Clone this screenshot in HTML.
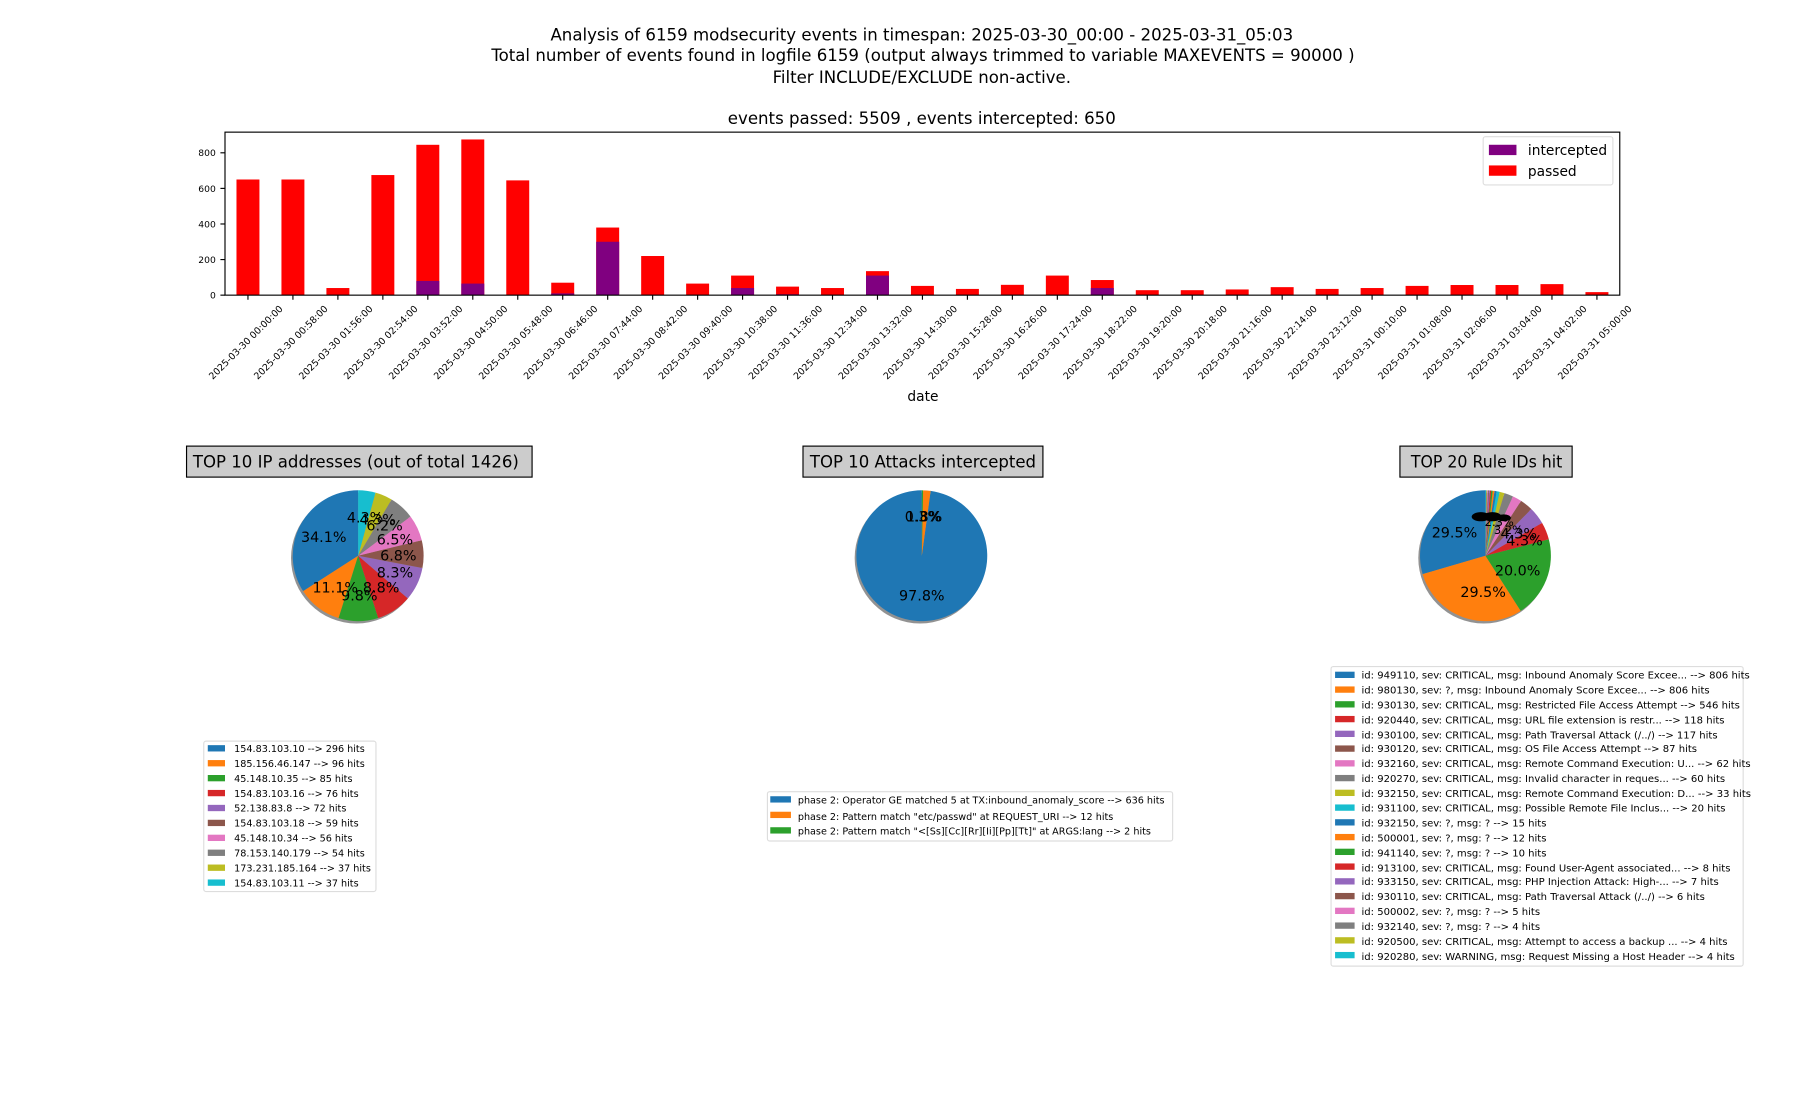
<!DOCTYPE html>
<html><head><meta charset="utf-8"><style>
html,body{margin:0;padding:0;background:#fff;}
svg{display:block;font-family:"DejaVu Sans","Liberation Sans",sans-serif;}
</style></head><body>
<svg id="s" width="1800" height="1100" viewBox="0 0 1568 958" xmlns="http://www.w3.org/2000/svg">
<rect width="1568" height="958" fill="#fff"/>
<g font-size="14.5" text-anchor="middle" fill="#000">
<text x="803" y="35" textLength="647" lengthAdjust="spacingAndGlyphs">Analysis of 6159 modsecurity events in timespan: 2025-03-30_00:00 - 2025-03-31_05:03</text>
<text x="804" y="53" textLength="752" lengthAdjust="spacingAndGlyphs">Total number of events found in logfile 6159 (output always trimmed to variable MAXEVENTS = 90000 )</text>
<text x="803" y="72" textLength="260" lengthAdjust="spacingAndGlyphs">Filter INCLUDE/EXCLUDE non-active.</text>
<text x="803" y="108" textLength="338" lengthAdjust="spacingAndGlyphs">events passed: 5509 , events intercepted: 650</text>
</g>
<g id="bars"></g>
<rect x="196" y="115" width="1215" height="142" fill="none" stroke="#000" stroke-width="1"/>
<g font-size="8" text-anchor="end">
<text x="188" y="260">0</text><line x1="192" y1="257" x2="196" y2="257" stroke="#000"/>
<text x="188" y="229">200</text><line x1="192" y1="226" x2="196" y2="226" stroke="#000"/>
<text x="188" y="198">400</text><line x1="192" y1="195" x2="196" y2="195" stroke="#000"/>
<text x="188" y="167">600</text><line x1="192" y1="164" x2="196" y2="164" stroke="#000"/>
<text x="188" y="136">800</text><line x1="192" y1="133" x2="196" y2="133" stroke="#000"/>
</g>
<g id="xt" font-size="8.2" text-anchor="middle"></g>
<text x="804" y="349" font-size="12" text-anchor="middle">date</text>
<rect x="1292" y="119" width="113" height="42" rx="2" fill="#fff" stroke="#ddd"/>
<rect x="1297" y="126" width="24" height="9" fill="#800080"/>
<rect x="1297" y="144" width="24" height="9" fill="#ff0000"/>
<text x="1331" y="135" font-size="12">intercepted</text>
<text x="1331" y="153" font-size="12">passed</text>

<g font-size="14.5" text-anchor="middle">
<rect x="162.5" y="388.5" width="301" height="27" fill="#ccc" stroke="#000"/>
<text x="310" y="407" textLength="284" lengthAdjust="spacingAndGlyphs">TOP 10 IP addresses (out of total 1426)</text>
<rect x="699.5" y="388.5" width="209" height="27" fill="#ccc" stroke="#000"/>
<text x="804" y="407" textLength="197" lengthAdjust="spacingAndGlyphs">TOP 10 Attacks intercepted</text>
<rect x="1219.5" y="388.5" width="150" height="27" fill="#ccc" stroke="#000"/>
<text x="1295" y="407" textLength="132" lengthAdjust="spacingAndGlyphs">TOP 20 Rule IDs hit</text>
</g>
<g id="pies"></g>
<g font-size="12.5" text-anchor="middle">
<text x="282" y="472">34.1%</text><text x="292" y="516">11.1%</text><text x="313" y="523">9.8%</text>
<text x="332" y="516">8.8%</text><text x="344" y="503">8.3%</text><text x="347" y="488">6.8%</text>
<text x="344" y="474">6.5%</text><text x="335" y="462">6.2%</text><text x="329" y="457">4.3%</text><text x="318" y="455">4.3%</text>
<text x="803" y="523">97.8%</text><text x="805" y="454">1.8%</text><text x="804" y="454">0.3%</text>
<text x="1267" y="468">29.5%</text><text x="1292" y="520">29.5%</text><text x="1322" y="501">20.0%</text>
<text x="1328" y="475">4.3%</text><text x="1323" y="469">4.3%</text>
<text x="1314" y="465" font-size="10">3.2%</text><text x="1306" y="458" font-size="10">2.3%</text>
</g>
<g fill="#000"><ellipse cx="1290" cy="450" rx="8" ry="4"/><ellipse cx="1300" cy="450" rx="8" ry="4"/><ellipse cx="1310" cy="451" rx="6" ry="3"/></g>

<g font-size="8.4">
<rect x="177.5" y="645.5" width="150" height="131" rx="2" fill="#fff" stroke="#ddd"/>
<g id="l1"></g>
<text x="204" y="655">154.83.103.10 --&gt; 296 hits</text>
<text x="204" y="668">185.156.46.147 --&gt; 96 hits</text>
<text x="204" y="681">45.148.10.35 --&gt; 85 hits</text>
<text x="204" y="694">154.83.103.16 --&gt; 76 hits</text>
<text x="204" y="707">52.138.83.8 --&gt; 72 hits</text>
<text x="204" y="720">154.83.103.18 --&gt; 59 hits</text>
<text x="204" y="733">45.148.10.34 --&gt; 56 hits</text>
<text x="204" y="746">78.153.140.179 --&gt; 54 hits</text>
<text x="204" y="759">173.231.185.164 --&gt; 37 hits</text>
<text x="204" y="772">154.83.103.11 --&gt; 37 hits</text>

<rect x="668.5" y="689.5" width="353" height="43" rx="2" fill="#fff" stroke="#ddd"/>
<g id="l2"></g>
<text x="695" y="700">phase 2: Operator GE matched 5 at TX:inbound_anomaly_score --&gt; 636 hits</text>
<text x="695" y="714">phase 2: Pattern match "etc/passwd" at REQUEST_URI --&gt; 12 hits</text>
<text x="695" y="727">phase 2: Pattern match "&lt;[Ss][Cc][Rr][Ii][Pp][Tt]" at ARGS:lang --&gt; 2 hits</text>

<rect x="1159.5" y="580.5" width="359" height="261" rx="2" fill="#fff" stroke="#ddd"/>
<g id="l3"></g>
<g id="l3t" font-size="8.75">
<text x="1186" y="591">id: 949110, sev: CRITICAL, msg: Inbound Anomaly Score Excee... --&gt; 806 hits</text>
<text x="1186" y="604">id: 980130, sev: ?, msg: Inbound Anomaly Score Excee... --&gt; 806 hits</text>
<text x="1186" y="617">id: 930130, sev: CRITICAL, msg: Restricted File Access Attempt --&gt; 546 hits</text>
<text x="1186" y="630">id: 920440, sev: CRITICAL, msg: URL file extension is restr... --&gt; 118 hits</text>
<text x="1186" y="643">id: 930100, sev: CRITICAL, msg: Path Traversal Attack (/../) --&gt; 117 hits</text>
<text x="1186" y="655">id: 930120, sev: CRITICAL, msg: OS File Access Attempt --&gt; 87 hits</text>
<text x="1186" y="668">id: 932160, sev: CRITICAL, msg: Remote Command Execution: U... --&gt; 62 hits</text>
<text x="1186" y="681">id: 920270, sev: CRITICAL, msg: Invalid character in reques... --&gt; 60 hits</text>
<text x="1186" y="694">id: 932150, sev: CRITICAL, msg: Remote Command Execution: D... --&gt; 33 hits</text>
<text x="1186" y="707">id: 931100, sev: CRITICAL, msg: Possible Remote File Inclus... --&gt; 20 hits</text>
<text x="1186" y="720">id: 932150, sev: ?, msg: ? --&gt; 15 hits</text>
<text x="1186" y="733">id: 500001, sev: ?, msg: ? --&gt; 12 hits</text>
<text x="1186" y="746">id: 941140, sev: ?, msg: ? --&gt; 10 hits</text>
<text x="1186" y="759">id: 913100, sev: CRITICAL, msg: Found User-Agent associated... --&gt; 8 hits</text>
<text x="1186" y="771">id: 933150, sev: CRITICAL, msg: PHP Injection Attack: High-... --&gt; 7 hits</text>
<text x="1186" y="784">id: 930110, sev: CRITICAL, msg: Path Traversal Attack (/../) --&gt; 6 hits</text>
<text x="1186" y="797">id: 500002, sev: ?, msg: ? --&gt; 5 hits</text>
<text x="1186" y="810">id: 932140, sev: ?, msg: ? --&gt; 4 hits</text>
<text x="1186" y="823">id: 920500, sev: CRITICAL, msg: Attempt to access a backup ... --&gt; 4 hits</text>
<text x="1186" y="836">id: 920280, sev: WARNING, msg: Request Missing a Host Header --&gt; 4 hits</text>
</g>
</g>
</svg>
<script>
(function(){
var NS="http://www.w3.org/2000/svg";
function el(p,t,a){var e=document.createElementNS(NS,t);for(var k in a)e.setAttribute(k,a[k]);p.appendChild(e);return e;}
var C=["#1f77b4","#ff7f0e","#2ca02c","#d62728","#9467bd","#8c564b","#e377c2","#7f7f7f","#bcbd22","#17becf"];
var tot=[650,650,40,675,845,875,645,70,380,220,65,110,48,40,135,52,35,58,110,85,28,28,32,45,35,40,52,57,57,62,17];
var itc=[0,0,0,0,80,65,0,10,300,0,0,40,5,0,110,0,0,0,0,40,0,0,0,0,0,0,0,0,0,0,0];
var labs=["2025-03-30 00:00:00","2025-03-30 00:58:00","2025-03-30 01:56:00","2025-03-30 02:54:00","2025-03-30 03:52:00","2025-03-30 04:50:00","2025-03-30 05:48:00","2025-03-30 06:46:00","2025-03-30 07:44:00","2025-03-30 08:42:00","2025-03-30 09:40:00","2025-03-30 10:38:00","2025-03-30 11:36:00","2025-03-30 12:34:00","2025-03-30 13:32:00","2025-03-30 14:30:00","2025-03-30 15:28:00","2025-03-30 16:26:00","2025-03-30 17:24:00","2025-03-30 18:22:00","2025-03-30 19:20:00","2025-03-30 20:18:00","2025-03-30 21:16:00","2025-03-30 22:14:00","2025-03-30 23:12:00","2025-03-31 00:10:00","2025-03-31 01:08:00","2025-03-31 02:06:00","2025-03-31 03:04:00","2025-03-31 04:02:00","2025-03-31 05:00:00"];
var b=document.getElementById("bars"),xt=document.getElementById("xt");
var k=0.155;
for(var i=0;i<31;i++){var cx=216+i*39.17;
 var h=tot[i]*k, hi=itc[i]*k;
 el(b,"rect",{x:cx-10,y:257-h,width:20,height:h,fill:"#ff0000"});
 if(hi>0)el(b,"rect",{x:cx-10,y:257-hi,width:20,height:hi,fill:"#800080"});
 el(b,"line",{x1:cx,y1:257,x2:cx,y2:261,stroke:"#000"});
 var px=cx-2,py=298;
 var t=el(xt,"text",{x:px,y:py+3,transform:"rotate(-45 "+px+" "+py+")"});t.textContent=labs[i];
}
var P=document.getElementById("pies");
function pie(cx,cy,r,v){var s=0;v.forEach(function(x){s+=x;});
 el(P,"circle",{cx:cx-1.5,cy:cy+2,r:r,fill:"#777",opacity:"0.8"});
 var a=Math.PI/2;
 v.forEach(function(x,j){var da=x/s*2*Math.PI,a2=a+da;
  var x1=cx+r*Math.cos(a),y1=cy-r*Math.sin(a),x2=cx+r*Math.cos(a2),y2=cy-r*Math.sin(a2);
  el(P,"path",{d:"M"+cx+","+cy+"L"+x1+","+y1+"A"+r+","+r+" 0 "+(da>Math.PI?1:0)+" 0 "+x2+","+y2+"Z",fill:C[j%10]});
  a=a2;});}
pie(312,484,57,[296,96,85,76,72,59,56,54,37,37]);
pie(803,484,57,[636,12,2]);
pie(1294,484,57,[806,806,546,118,117,87,62,60,33,20,15,12,10,8,7,6,5,4,4,4]);
function leg(id,x,y0,st,n,w){var g=document.getElementById(id);for(var j=0;j<n;j++)el(g,"rect",{x:x,y:y0+j*st,width:w,height:5.5,fill:C[j%10]});}
leg("l1",181,649,13,10,15);
leg("l2",671,693.5,13.5,3,18);
leg("l3",1163,585,12.85,20,17);
})();
</script>
</body></html>
